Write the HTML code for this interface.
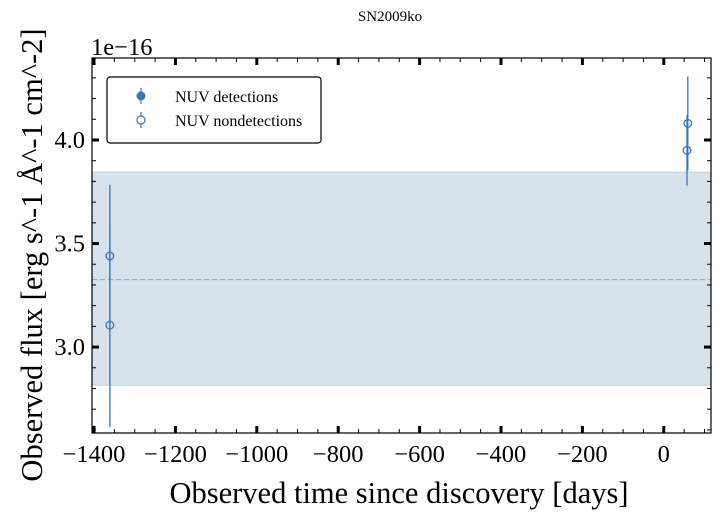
<!DOCTYPE html>
<html><head><meta charset="utf-8"><style>
body{margin:0;background:#fff;}
svg{display:block;font-family:"Liberation Serif",serif;}
</style></head><body>
<svg id="chart" width="719" height="519" viewBox="0 0 719 519">
<text x="390" y="21" font-size="15" text-anchor="middle">SN2009ko</text>
<g id="plot"></g>
</svg>
<script>
const xTicks=[-1400,-1200,-1000,-800,-600,-400,-200,0];
const yTicks=[3.0,3.5,4.0];
const ndDays=[-1361,-1361,59,57];
const ndFlux=[3.44,3.106,4.08,3.95];
const ndErr=[0.343,0.493,0.227,0.17];
const bandLow=2.816, bandHigh=3.845, bandMid=3.326;

const L=92,R=711,T=58,B=433;
const xmin=-1405,xmax=116,ymin=2.585,ymax=4.396;
const X=v=>L+(v-xmin)/(xmax-xmin)*(R-L);
const Y=v=>B-(v-ymin)/(ymax-ymin)*(B-T);
const NS="http://www.w3.org/2000/svg";
const g=document.getElementById('plot');
function mk(t,a,p){const e=document.createElementNS(NS,t);for(const k in a)e.setAttribute(k,a[k]);(p||g).appendChild(e);return e;}

let e=mk('rect',{x:L,y:Y(bandHigh),width:R-L,height:Y(bandLow)-Y(bandHigh),fill:'#d8e2ec',stroke:'#bcd0e0','stroke-width':1});


e=mk('line',{x1:L,x2:R,y1:Y(bandMid),y2:Y(bandMid),stroke:'#8aa6c2','stroke-width':1,'stroke-dasharray':'5,3'});



for(let i=0;i<ndDays.length;i++){
  const x=X(ndDays[i]);
  e=mk('line',{x1:x,x2:x,y1:Y(ndFlux[i]+ndErr[i]),y2:Y(ndFlux[i]-ndErr[i]),stroke:'#3a75b8','stroke-width':1.3});
  
  
}
for(let i=0;i<ndDays.length;i++){
  e=mk('circle',{cx:X(ndDays[i]),cy:Y(ndFlux[i]),r:3.8,fill:'none',stroke:'#3a75b8','stroke-width':1.3});
  
  
}

e=mk('rect',{x:L,y:T,width:R-L,height:B-T,fill:'none',stroke:'#000','stroke-width':1.2});



for(let v=-1400;v<=100;v+=50){
  const x=X(v);const maj=v%200===0;const len=maj?7:4;const w=maj?3:1;
  mk('line',{x1:x,x2:x,y1:B,y2:B-len,stroke:'#000','stroke-width':w});
  mk('line',{x1:x,x2:x,y1:T,y2:T+len,stroke:'#000','stroke-width':w});
}
xTicks.forEach(v=>{
  const t=mk('text',{x:X(v),y:B+29,'font-size':24.5,'text-anchor':'middle'});
  t.textContent=(v<0?'\u2212'+(-v):''+v);
  
  
});
for(let k=26;k<=43;k++){
  const v=k/10;const y=Y(v);const maj=k%5===0;const len=maj?7:4;const w=maj?3:1;
  mk('line',{x1:L,x2:L+len,y1:y,y2:y,stroke:'#000','stroke-width':w});
  mk('line',{x1:R,x2:R-len,y1:y,y2:y,stroke:'#000','stroke-width':w});
}
yTicks.forEach(v=>{
  const t=mk('text',{x:L-7,y:Y(v)+8,'font-size':24.5,'text-anchor':'end'});
  t.textContent=v.toFixed(1);
  
  
});
e=mk('text',{x:91,y:55,'font-size':24.5});e.textContent='1e\u221216';


e=mk('text',{x:399,y:503,'font-size':30.5,'text-anchor':'middle'});e.textContent='Observed time since discovery [days]';


e=mk('text',{x:0,y:0,'font-size':30.5,'text-anchor':'middle',transform:'translate(42,255) rotate(-90)'});e.textContent='Observed flux [erg s^-1 \u00c5^-1 cm^-2]';



const lg=mk('g',{});


mk('rect',{x:107,y:77,width:214,height:66,rx:3,fill:'#fff',stroke:'#000','stroke-width':1.2},lg);
mk('line',{x1:141,x2:141,y1:88,y2:104,stroke:'#3a75b8','stroke-width':1.2},lg);
mk('circle',{cx:141,cy:96,r:4,fill:'#3a75b8',stroke:'#3a75b8'},lg);
e=mk('text',{x:175,y:102,'font-size':16},lg);e.textContent='NUV detections';


mk('line',{x1:141,x2:141,y1:112,y2:128,stroke:'#3a75b8','stroke-width':1.2},lg);
mk('circle',{cx:141,cy:120,r:4,fill:'#fff',stroke:'#3a75b8','stroke-width':1.2},lg);
e=mk('text',{x:175,y:126,'font-size':16},lg);e.textContent='NUV nondetections';


</script>
</body></html>
